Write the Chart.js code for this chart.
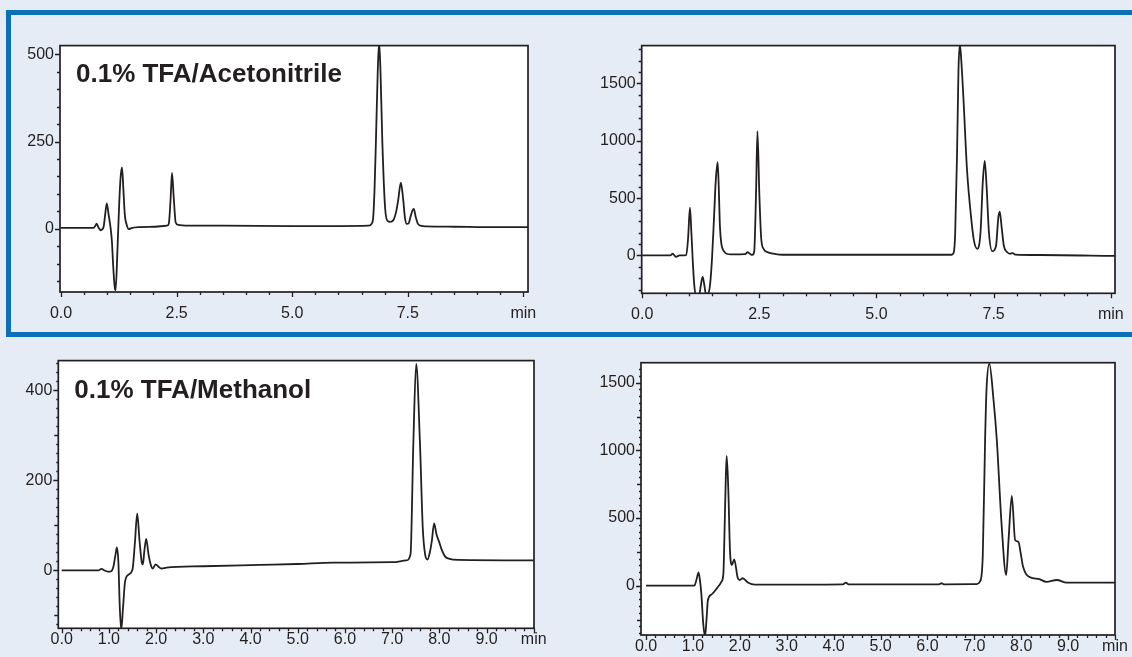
<!DOCTYPE html>
<html>
<head>
<meta charset="utf-8">
<script src="https://cdn.jsdelivr.net/npm/chart.js@4.4.1/dist/chart.umd.min.js"></script>
<style>
  html, body { margin:0; padding:0; }
  body { width:1132px; height:657px; overflow:hidden; position:relative; background:#e5ecf6; }
  #frame { position:absolute; left:6px; top:10px; width:1200px; height:317px; border:5px solid #0a71b8; }
  canvas { position:absolute; }
</style>
</head>
<body>
<div id="frame"></div>
<canvas id="c1" width="560" height="300" style="left:15px;top:30px"></canvas>
<canvas id="c2" width="570" height="300" style="left:590px;top:30px"></canvas>
<canvas id="c3" width="570" height="312" style="left:10px;top:345px"></canvas>
<canvas id="c4" width="570" height="312" style="left:590px;top:345px"></canvas>
<script>
// ---------- data (time in min, detector signal) ----------
const titleAcetonitrile = "0.1% TFA/Acetonitrile";
const titleMethanol = "0.1% TFA/Methanol";

const topXTickValues = [0, 2.5, 5, 7.5, 10];
const topXTickLabels = ["0.0", "2.5", "5.0", "7.5", "min"];
const bottomXTickValues = [0, 1, 2, 3, 4, 5, 6, 7, 8, 9, 10];
const bottomXTickLabels = ["0.0", "1.0", "2.0", "3.0", "4.0", "5.0", "6.0", "7.0", "8.0", "9.0", "min"];

const p1YTicks = [0, 250, 500];
const p2YTicks = [0, 500, 1000, 1500];
const p3YTicks = [0, 200, 400];
const p4YTicks = [0, 500, 1000, 1500];

// Panel 1: TFA/Acetonitrile, low load
const p1Time = [0.00,0.70,0.74,0.77,0.81,0.86,0.92,0.95,0.99,1.03,1.07,1.10,1.13,1.16,1.18,1.22,1.26,1.29,1.32,1.35,1.38,1.42,1.47,1.52,1.70,2.00,2.29,2.33,2.37,2.40,2.44,2.48,2.54,2.70,3.50,5.00,6.00,6.65,6.72,6.75,6.78,6.81,6.85,6.88,6.91,6.95,7.01,7.07,7.12,7.20,7.25,7.29,7.35,7.40,7.44,7.48,7.52,7.56,7.60,7.63,7.67,7.72,7.78,7.90,8.50,9.20,10.10];
const p1Signal = [3,3,8,15,4,-4,5,35,73,40,5,-35,-110,-165,-176,-63,77,150,176,110,40,12,-1,2,5,6,9,14,85,160,85,18,11,9,9,8,8,9,15,30,110,247,450,535,450,247,59,22,20,28,50,80,132,85,30,14,16,35,52,57,35,14,9,7,6,5,5];

// Panel 2: TFA/Acetonitrile, high load
const p2Time = [0.00,0.60,0.65,0.72,0.80,0.94,0.98,1.02,1.05,1.08,1.11,1.14,1.22,1.26,1.29,1.32,1.36,1.41,1.45,1.49,1.53,1.57,1.61,1.63,1.66,1.69,1.74,1.80,1.90,2.20,2.25,2.30,2.35,2.39,2.43,2.46,2.50,2.54,2.59,2.70,2.81,3.00,5.00,6.60,6.65,6.68,6.72,6.75,6.78,6.81,6.86,6.93,7.02,7.08,7.15,7.22,7.27,7.31,7.35,7.40,7.47,7.55,7.60,7.63,7.67,7.72,7.79,7.85,7.91,7.96,8.50,10.10];
const p2Signal = [0,0,15,-12,0,2,150,416,200,-50,-250,-340,-335,-240,-187,-240,-335,-330,-250,-30,300,650,813,650,250,100,40,15,10,12,28,15,5,30,540,1083,540,150,58,25,15,6,6,6,28,200,900,1623,1840,1700,1336,761,330,129,58,200,650,825,600,200,37,80,330,382,250,80,28,15,20,8,4,-4];

// Panel 3: TFA/Methanol, low load
const p3Time = [0.00,0.78,0.84,0.92,0.98,1.05,1.10,1.14,1.17,1.20,1.23,1.26,1.30,1.34,1.41,1.50,1.55,1.60,1.65,1.70,1.72,1.75,1.79,1.84,1.90,1.93,1.99,2.05,2.11,2.22,3.00,4.20,5.00,5.75,7.00,7.30,7.39,7.45,7.51,7.59,7.65,7.70,7.75,7.80,7.84,7.89,7.94,8.00,8.05,8.12,8.20,8.40,10.00];
const p3Signal = [0,0,3,-1,-3,-2,10,35,51,20,-80,-132,-82,-27,-10,2,60,126,64,16,13,42,70,35,8,4,13,8,4,6,9,12,14,17,18,22,35,282,458,282,93,35,24,40,64,104,80,62,46,31,26,23,22];

// Panel 4: TFA/Methanol, high load
const p4Time = [0.00,1.00,1.04,1.08,1.12,1.15,1.18,1.22,1.26,1.29,1.32,1.40,1.51,1.61,1.65,1.67,1.70,1.72,1.755,1.79,1.83,1.88,1.955,2.00,2.06,2.18,2.32,3.00,4.20,4.26,4.32,6.25,6.30,6.35,7.05,7.12,7.18,7.23,7.26,7.32,7.41,7.48,7.58,7.68,7.73,7.80,7.87,7.94,7.99,8.04,8.19,8.37,8.54,8.76,8.97,10.00];
const p4Signal = [0,0,5,50,99,40,-60,-280,-375,-250,-106,-64,-20,30,91,338,781,959,707,264,153,195,59,42,55,22,8,8,10,22,10,10,18,10,12,30,215,1077,1446,1640,1372,1077,461,79,338,663,338,325,239,140,62,50,28,42,22,22];

// ---------- drawing ----------
const INK = '#231f20';
const FONT = '"Liberation Sans", Arial, Helvetica, sans-serif';

const panelDecor = {
  id: 'panelDecor',
  beforeDraw(chart) {
    const {ctx, chartArea: a} = chart;
    ctx.save();
    ctx.fillStyle = '#ffffff';
    ctx.fillRect(a.left, a.top, a.right - a.left, a.bottom - a.top);
    ctx.restore();
  },
  afterDraw(chart) {
    const o = chart.options.plugins.panelDecor;
    const {ctx, chartArea: a} = chart;
    const xs = chart.scales.x, ys = chart.scales.y;
    ctx.save();
    ctx.strokeStyle = INK;
    ctx.lineWidth = 1.3;
    ctx.beginPath();
    o.xMarks.forEach(([step, len]) => {
      const n0 = Math.ceil(xs.min / step - 1e-6), n1 = Math.floor(xs.max / step + 1e-6);
      for (let n = n0; n <= n1; n++) {
        const px = Math.round(xs.getPixelForValue(n * step)) + 0.5;
        ctx.moveTo(px, a.bottom);
        ctx.lineTo(px, a.bottom + len);
      }
    });
    o.yMarks.forEach(([step, len]) => {
      const n0 = Math.ceil(ys.min / step - 1e-6), n1 = Math.floor(ys.max / step + 1e-6);
      for (let n = n0; n <= n1; n++) {
        const py = Math.round(ys.getPixelForValue(n * step)) + 0.5;
        ctx.moveTo(a.left, py);
        ctx.lineTo(a.left - len, py);
      }
    });
    ctx.stroke();
    ctx.lineWidth = 1.7;
    ctx.strokeRect(a.left, a.top, a.right - a.left, a.bottom - a.top);
    if (o.title) {
      ctx.fillStyle = INK;
      ctx.font = 'bold 26px ' + FONT;
      ctx.textBaseline = 'alphabetic';
      ctx.textAlign = 'left';
      ctx.fillText(o.title, a.left + o.titleDx, a.top + o.titleDy);
    }
    ctx.restore();
  }
};

function makePanel(p) {
  const box = p.box, plot = p.plot;
  new Chart(document.getElementById(p.id), {
    type: 'line',
    data: {
      datasets: [{
        data: p.time.map((t, i) => ({x: t, y: p.signal[i]})),
        borderColor: INK,
        borderWidth: 1.8,
        pointRadius: 0,
        fill: false,
        cubicInterpolationMode: 'monotone'
      }]
    },
    plugins: [panelDecor],
    options: {
      responsive: false,
      animation: false,
      events: [],
      layout: { padding: { top: plot.top - box.top, right: box.left + box.w - plot.right, left: 0, bottom: 0 } },
      plugins: {
        legend: { display: false },
        tooltip: { enabled: false },
        panelDecor: { xMarks: p.xMarks, yMarks: p.yMarks, title: p.title, titleDx: 16, titleDy: p.titleDy }
      },
      scales: {
        x: {
          type: 'linear', position: 'bottom', min: p.xMin, max: p.xMax,
          afterBuildTicks: s => { s.ticks = p.xTickValues.map(v => ({value: v})); },
          afterFit: s => { s.height = box.top + box.h - plot.bottom; },
          ticks: { callback: (v, i) => p.xTickLabels[i], color: INK, font: {family: FONT, size: 16}, padding: p.xPad, maxRotation: 0, autoSkip: false },
          grid: { display: false, drawTicks: false },
          border: { display: false }
        },
        y: {
          type: 'linear', position: 'left', min: p.yMin, max: p.yMax,
          afterBuildTicks: s => { s.ticks = p.yTickValues.map(v => ({value: v})); },
          afterFit: s => { s.width = plot.left - box.left; },
          ticks: { callback: v => String(v), color: INK, font: {family: FONT, size: 16}, padding: 6, autoSkip: false },
          grid: { display: false, drawTicks: false },
          border: { display: false }
        }
      }
    }
  });
}

makePanel({ id: 'c1', box: {left: 15, top: 30, w: 560, h: 300}, plot: {left: 60, top: 41, right: 528, bottom: 292},
  time: p1Time, signal: p1Signal, xMin: -0.022, xMax: 10.10, yMin: -181, yMax: 525,
  xTickValues: topXTickValues, xTickLabels: topXTickLabels, yTickValues: p1YTicks,
  xMarks: [[0.5, 3], [2.5, 5]], yMarks: [[50, 3], [250, 5]], xPad: 12, title: titleAcetonitrile, titleDy: 36 });

makePanel({ id: 'c2', box: {left: 590, top: 30, w: 570, h: 300}, plot: {left: 641.7, top: 42.7, right: 1115, bottom: 293.3},
  time: p2Time, signal: p2Signal, xMin: -0.01, xMax: 10.09, yMin: -330, yMax: 1830,
  xTickValues: topXTickValues, xTickLabels: topXTickLabels, yTickValues: p2YTicks,
  xMarks: [[0.5, 3], [2.5, 5]], yMarks: [[100, 3], [500, 5]], xPad: 12, title: null, titleDy: 0 });

makePanel({ id: 'c3', box: {left: 10, top: 345, w: 570, h: 312}, plot: {left: 58.3, top: 356, right: 534, bottom: 628.3},
  time: p3Time, signal: p3Signal, xMin: -0.072, xMax: 10.006, yMin: -128.7, yMax: 465.5,
  xTickValues: bottomXTickValues, xTickLabels: bottomXTickLabels, yTickValues: p3YTicks,
  xMarks: [[0.2, 3], [1, 5]], yMarks: [[20, 2], [100, 4], [200, 5]], xPad: 2, title: titleMethanol, titleDy: 37 });

makePanel({ id: 'c4', box: {left: 590, top: 345, w: 570, h: 312}, plot: {left: 641, top: 362.7, right: 1115, bottom: 635},
  time: p4Time, signal: p4Signal, xMin: -0.107, xMax: 10.0, yMin: -364.3, yMax: 1647.8,
  xTickValues: bottomXTickValues, xTickLabels: bottomXTickLabels, yTickValues: p4YTicks,
  xMarks: [[0.2, 3], [1, 5]], yMarks: [[50, 2], [250, 4], [500, 5]], xPad: 2, title: null, titleDy: 0 });
</script>
</body>
</html>
